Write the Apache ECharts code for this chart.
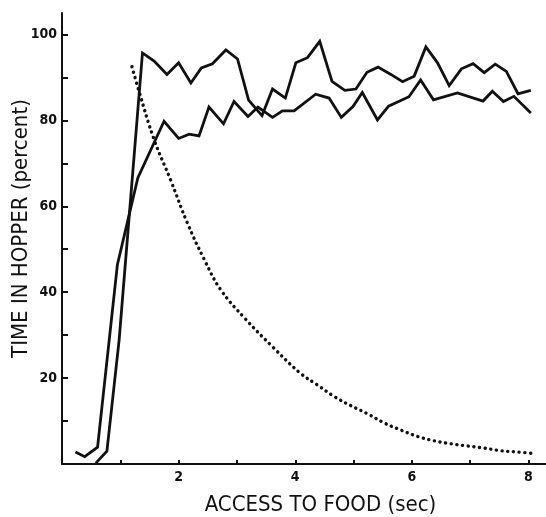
<!DOCTYPE html>
<html>
<head>
<meta charset="utf-8">
<script src="https://cdn.jsdelivr.net/npm/echarts@6/dist/echarts.min.js"></script>
<style>
html,body{margin:0;padding:0;background:#fff;}
#chart{width:546px;height:517px;}
</style>
</head>
<body>
<div id="chart"></div>
<script>
// Upper solid curve (x = access to food in sec, y = time in hopper %)
const upperX = [0.58, 0.77, 0.98, 1.38, 1.58, 1.80, 2.00, 2.21, 2.39, 2.58, 2.81, 3.01, 3.20, 3.43, 3.61, 3.83, 4.01, 4.21, 4.42, 4.63, 4.85, 5.04, 5.23, 5.42, 5.64, 5.84, 6.04, 6.24, 6.44, 6.64, 6.85, 7.05, 7.24, 7.43, 7.62, 7.82, 8.04];
const upperY = [0.2, 3.0, 28.9, 95.7, 93.8, 90.7, 93.4, 88.7, 92.2, 93.2, 96.4, 94.3, 84.7, 81.1, 87.3, 85.2, 93.4, 94.6, 98.4, 89.1, 87.0, 87.3, 91.2, 92.4, 90.7, 89.0, 90.3, 97.1, 93.4, 88.1, 92.0, 93.2, 91.1, 93.1, 91.4, 86.2, 87.0];
// Lower solid curve
const lowerX = [0.23, 0.39, 0.61, 0.95, 1.30, 1.75, 2.00, 2.18, 2.35, 2.52, 2.77, 2.95, 3.19, 3.36, 3.61, 3.78, 3.98, 4.35, 4.58, 4.79, 4.99, 5.15, 5.41, 5.60, 5.95, 6.15, 6.37, 6.78, 7.22, 7.38, 7.57, 7.75, 8.04];
const lowerY = [2.8, 1.7, 3.9, 46.4, 66.6, 79.8, 75.8, 76.8, 76.4, 83.1, 79.2, 84.4, 80.9, 83.1, 80.7, 82.2, 82.2, 86.1, 85.2, 80.7, 83.2, 86.5, 80.1, 83.3, 85.5, 89.4, 84.8, 86.4, 84.5, 86.8, 84.4, 85.6, 81.7];
// Dotted decaying curve
const dotX = [1.20, 1.32, 1.58, 1.86, 2.15, 2.44, 2.72, 3.13, 3.61, 4.09, 4.38, 4.67, 4.95, 5.24, 5.52, 5.81, 6.10, 6.38, 6.67, 6.95, 7.24, 7.52, 7.81, 8.05];
const dotY = [92.5, 86.8, 75.5, 66.2, 56.1, 47.6, 40.6, 34.0, 27.3, 21.1, 18.4, 15.7, 13.6, 11.7, 9.6, 7.9, 6.4, 5.4, 4.7, 4.2, 3.7, 3.1, 2.8, 2.5];
// Axis ticks and labels
const xTicks = [1, 2, 3, 4, 5, 6, 7, 8];
const xLabels = [2, 4, 6, 8];
const yTicks = [10, 20, 30, 40, 50, 60, 70, 80, 90, 100];
const yLabels = [20, 40, 60, 80, 100];
const xTitle = 'ACCESS TO FOOD (sec)';
const yTitle = 'TIME IN HOPPER (percent)';

const zip = (xs, ys) => xs.map((x, i) => [x, ys[i]]);
const FONT = '"Liberation Sans Narrow", "DejaVu Sans Condensed", "Roboto Condensed", "Arial Narrow", sans-serif';
const INK = '#111';

const chart = echarts.init(document.getElementById('chart'), null, {renderer: 'canvas'});
chart.setOption({
  animation: false,
  backgroundColor: '#fff',
  grid: {left: 62, right: 0, top: 13, bottom: 53, containLabel: false, outerBoundsMode: 'none'},
  xAxis: {
    type: 'value', min: 0, max: 8.3,
    splitLine: {show: false},
    axisLine: {show: true, lineStyle: {color: INK, width: 2}},
    axisTick: {show: true, inside: true, length: 4, customValues: xTicks, lineStyle: {color: INK, width: 2}},
    axisLabel: {customValues: xLabels, margin: 6, color: INK, fontFamily: FONT, fontWeight: 'bold', fontSize: 14},
    name: xTitle, nameLocation: 'middle', nameGap: 30, nameMoveOverlap: false,
    nameTextStyle: {color: INK, fontFamily: FONT, fontSize: 22, padding: [0, 0, 0, 33]}
  },
  yAxis: {
    type: 'value', min: 0, max: 105,
    splitLine: {show: false},
    axisLine: {show: true, lineStyle: {color: INK, width: 2}},
    axisTick: {show: true, inside: true, length: 6, customValues: yTicks, lineStyle: {color: INK, width: 2}},
    axisLabel: {customValues: yLabels, margin: 5, color: INK, fontFamily: FONT, fontWeight: 'bold', fontSize: 14},
    name: yTitle, nameLocation: 'middle', nameGap: 30, nameRotate: 90, nameMoveOverlap: false,
    nameTextStyle: {color: INK, fontFamily: FONT, fontSize: 22, padding: [0, 0, 0, 20]}
  },
  series: [
    {type: 'line', data: zip(dotX, dotY), smooth: 0.4, symbol: 'none', silent: true,
     lineStyle: {color: INK, width: 3.4, type: [0.1, 5.6], cap: 'round'}},
    {type: 'line', data: zip(upperX, upperY), symbol: 'none', silent: true,
     lineStyle: {color: INK, width: 2.8, join: 'miter'}},
    {type: 'line', data: zip(lowerX, lowerY), symbol: 'none', silent: true,
     lineStyle: {color: INK, width: 2.8, join: 'miter'}}
  ]
});
</script>
</body>
</html>
